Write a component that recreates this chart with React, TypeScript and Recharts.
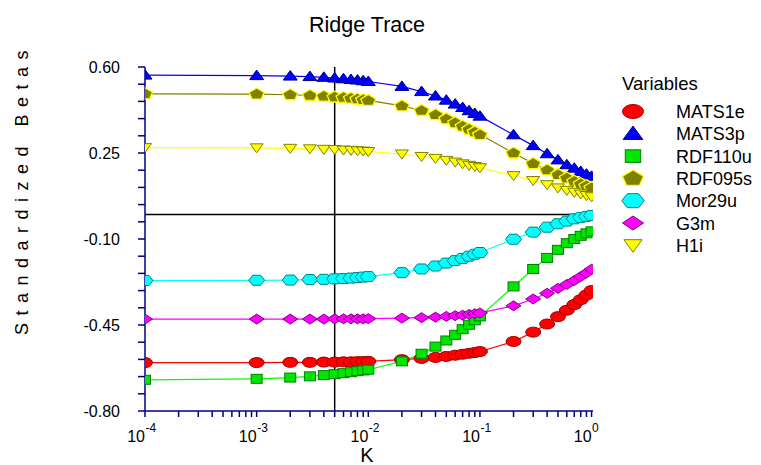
import React from 'react'
import { LineChart, Line, XAxis, YAxis, ReferenceLine } from 'recharts'

// ridge parameter K
const kValues = [
  0.0001, 0.001, 0.002, 0.003, 0.004, 0.005, 0.006, 0.007, 0.008, 0.009,
  0.01, 0.02, 0.03, 0.04, 0.05, 0.06, 0.07, 0.08, 0.09,
  0.1, 0.2, 0.3, 0.4, 0.5, 0.6, 0.7, 0.8, 0.9, 1.0,
]

const mats1e = [
  -0.603, -0.603, -0.602, -0.602, -0.601, -0.601, -0.600, -0.600, -0.599, -0.599,
  -0.598, -0.591, -0.586, -0.582, -0.578, -0.573, -0.569, -0.565, -0.562,
  -0.558, -0.517, -0.479, -0.446, -0.416, -0.390, -0.367, -0.347, -0.328, -0.310,
]
const mats3p = [
  0.567, 0.565, 0.563, 0.561, 0.558, 0.555, 0.552, 0.549, 0.547, 0.544,
  0.541, 0.521, 0.500, 0.482, 0.465, 0.449, 0.435, 0.422, 0.411,
  0.400, 0.324, 0.280, 0.247, 0.222, 0.202, 0.188, 0.175, 0.164, 0.155,
]
const rdf110u = [
  -0.673, -0.669, -0.664, -0.659, -0.654, -0.650, -0.646, -0.642, -0.638, -0.635,
  -0.632, -0.598, -0.567, -0.538, -0.513, -0.490, -0.467, -0.449, -0.431,
  -0.415, -0.293, -0.222, -0.177, -0.144, -0.117, -0.100, -0.087, -0.077, -0.069,
]
const rdf095s = [
  0.491, 0.490, 0.487, 0.484, 0.481, 0.478, 0.476, 0.473, 0.470, 0.467,
  0.464, 0.442, 0.423, 0.406, 0.389, 0.373, 0.359, 0.347, 0.336,
  0.325, 0.250, 0.207, 0.181, 0.162, 0.148, 0.135, 0.125, 0.117, 0.109,
]
const mor29u = [
  -0.269, -0.268, -0.267, -0.265, -0.264, -0.262, -0.261, -0.259, -0.257, -0.255,
  -0.253, -0.237, -0.222, -0.210, -0.198, -0.188, -0.179, -0.170, -0.162,
  -0.155, -0.101, -0.072, -0.052, -0.038, -0.027, -0.018, -0.012, -0.008, -0.004,
]
const g3m = [
  -0.426, -0.426, -0.426, -0.426, -0.426, -0.425, -0.425, -0.425, -0.425, -0.425,
  -0.424, -0.422, -0.420, -0.418, -0.415, -0.412, -0.410, -0.407, -0.404,
  -0.401, -0.372, -0.344, -0.321, -0.301, -0.285, -0.269, -0.253, -0.238, -0.223,
]
const h1i = [
  0.272, 0.271, 0.269, 0.267, 0.265, 0.264, 0.262, 0.261, 0.259, 0.258,
  0.256, 0.246, 0.236, 0.228, 0.220, 0.213, 0.206, 0.200, 0.195,
  0.190, 0.158, 0.138, 0.121, 0.108, 0.098, 0.090, 0.083, 0.077, 0.072,
]

const chosenK = 0.005

const xTicks = [
  0.0001, 0.0002, 0.0003, 0.0004, 0.0005, 0.0006, 0.0007, 0.0008, 0.0009,
  0.001, 0.002, 0.003, 0.004, 0.005, 0.006, 0.007, 0.008, 0.009,
  0.01, 0.02, 0.03, 0.04, 0.05, 0.06, 0.07, 0.08, 0.09,
  0.1, 0.2, 0.3, 0.4, 0.5, 0.6, 0.7, 0.8, 0.9, 1,
]
const yTicks = [
  -0.8, -0.73, -0.66, -0.59, -0.52, -0.45, -0.38, -0.31, -0.24, -0.17, -0.1,
  -0.03, 0.04, 0.11, 0.18, 0.25, 0.32, 0.39, 0.46, 0.53, 0.6,
]
const yLabels = [-0.8, -0.45, -0.1, 0.25, 0.6]

const series = [
  { name: 'MATS1e', values: mats1e, line: '#ff0000', fill: '#ff0000', edge: '#a00000', shape: 'ellipse' },
  { name: 'MATS3p', values: mats3p, line: '#0000ff', fill: '#0000ff', edge: '#000080', shape: 'triangle' },
  { name: 'RDF110u', values: rdf110u, line: '#00ff00', fill: '#00e600', edge: '#008000', shape: 'square' },
  { name: 'RDF095s', values: rdf095s, line: '#808000', fill: '#808000', edge: '#ffff00', shape: 'pentagon' },
  { name: 'Mor29u', values: mor29u, line: '#00ffff', fill: '#00ffff', edge: '#008080', shape: 'hexagon' },
  { name: 'G3m', values: g3m, line: '#ff00ff', fill: '#ff00ff', edge: '#800080', shape: 'diamond' },
  { name: 'H1i', values: h1i, line: '#ffff00', fill: '#ffff00', edge: '#808000', shape: 'down' },
]

const rows = kValues.map((k, i) => {
  const r: any = { k }
  series.forEach(s => { r[s.name] = s.values[i] })
  return r
})

const axisColor = '#000080'

const pts = (arr: number[][], cx: number, cy: number, s: number) =>
  arr.map(([a, b]) => `${cx + a * s},${cy + b * s}`).join(' ')

const Marker = ({ shape, cx, cy, fill, edge, s = 1 }: any) => {
  const common = { fill, stroke: edge, strokeWidth: 1 }
  switch (shape) {
    case 'ellipse':
      return <ellipse cx={cx} cy={cy} rx={7.5 * s} ry={5 * s} {...common} />
    case 'triangle':
      return <polygon points={pts([[0, -5.5], [7, 4], [-7, 4]], cx, cy, s)} {...common} />
    case 'square':
      return <rect x={cx - 5.5 * s} y={cy - 4.5 * s} width={11 * s} height={9 * s} {...common} />
    case 'pentagon':
      return <polygon points={pts([[0, -6], [7.5, -1.5], [4.6, 5], [-4.6, 5], [-7.5, -1.5]], cx, cy, s)} {...common} strokeWidth={1.3} />
    case 'hexagon':
      return <polygon points={pts([[-8, 0], [-4, -5], [4, -5], [8, 0], [4, 5], [-4, 5]], cx, cy, s)} {...common} />
    case 'diamond':
      return <polygon points={pts([[0, -5], [7.5, 0], [0, 5], [-7.5, 0]], cx, cy, s)} {...common} />
    default:
      return <polygon points={pts([[-6.5, -4], [6.5, -4], [0, 5]], cx, cy, s)} {...common} />
  }
}

const dotFor = (s: any) => (props: any) => {
  const { cx, cy, index } = props
  if (cx == null || cy == null) return <g key={`${s.name}-${index}`} />
  return <Marker key={`${s.name}-${index}`} shape={s.shape} cx={cx} cy={cy} fill={s.fill} edge={s.edge} />
}

const XTick = (props: any) => {
  const { x, y, payload } = props
  const lg = Math.log10(payload.value)
  const p = Math.round(lg)
  const major = Math.abs(lg - p) < 1e-6
  return (
    <g>
      <line x1={x} x2={x} y1={y} y2={y + 6} stroke={axisColor} strokeWidth={1.5} />
      {major && (
        <>
          <text x={x} y={y + 31} textAnchor="end" fontSize={16} fill="#000">10</text>
          <text x={x + 0.5} y={y + 21} textAnchor="start" fontSize={12} fill="#000">{p}</text>
        </>
      )}
    </g>
  )
}

const YTick = (props: any) => {
  const { x, y, payload } = props
  const v = payload.value
  const major = yLabels.some(l => Math.abs(l - v) < 1e-6)
  return (
    <g>
      <line x1={x - 7} x2={x} y1={y} y2={y} stroke={axisColor} strokeWidth={1.5} />
      {major && (
        <text x={x - 25} y={y + 5.5} textAnchor="end" fontSize={16} fill="#000">{v.toFixed(2)}</text>
      )}
    </g>
  )
}

const App = () => {
  return (
    <div style={{ position: 'absolute', left: 0, top: 0, width: 761, height: 465, background: '#fff', fontFamily: '"Liberation Sans", Arial, sans-serif' }}>
      <LineChart width={761} height={465} data={rows} margin={{ top: 67, right: 168, bottom: 0, left: 0 }}>
        <XAxis
          dataKey="k"
          type="number"
          scale="log"
          domain={[0.0001, 1.03]}
          allowDataOverflow
          ticks={xTicks}
          interval={0}
          tick={<XTick />}
          tickLine={false}
          tickSize={0}
          tickMargin={0}
          height={54}
          axisLine={{ stroke: axisColor, strokeWidth: 1.5 }}
        />
        <YAxis
          type="number"
          domain={[-0.8, 0.6]}
          allowDataOverflow
          ticks={yTicks}
          interval={0}
          tick={<YTick />}
          tickLine={false}
          tickSize={0}
          tickMargin={0}
          width={145}
          axisLine={{ stroke: axisColor, strokeWidth: 1.5 }}
        />
        {series.map(s => (
          <Line
            key={s.name}
            type="linear"
            dataKey={s.name}
            stroke={s.line}
            strokeWidth={1.2}
            dot={dotFor(s)}
            activeDot={false}
            isAnimationActive={false}
          />
        ))}
        <ReferenceLine y={0} stroke="#000" strokeWidth={1.5} />
        <ReferenceLine x={chosenK} stroke="#000" strokeWidth={1.5} />
      </LineChart>
      <svg width={761} height={465} style={{ position: 'absolute', left: 0, top: 0, pointerEvents: 'none' }}>
        <text x={367} y={32} textAnchor="middle" fontSize={21.5} fill="#000">Ridge Trace</text>
        <text x={367} y={462} textAnchor="middle" fontSize={20} fill="#000">K</text>
        <text transform="translate(28,189) rotate(-90)" textAnchor="middle" fontSize={18} letterSpacing={7.5} fill="#000">Standardized Betas</text>
        <text x={622} y={90} fontSize={18.5} fill="#000">Variables</text>
        {series.map((s, i) => (
          <g key={s.name}>
            <Marker shape={s.shape} cx={633} cy={111.5 + i * 22.3} fill={s.fill} edge={s.edge} s={1.4} />
            <text x={676} y={111.5 + i * 22.3 + 6.5} fontSize={18} fill="#000">{s.name}</text>
          </g>
        ))}
      </svg>
    </div>
  )
}

export default App
